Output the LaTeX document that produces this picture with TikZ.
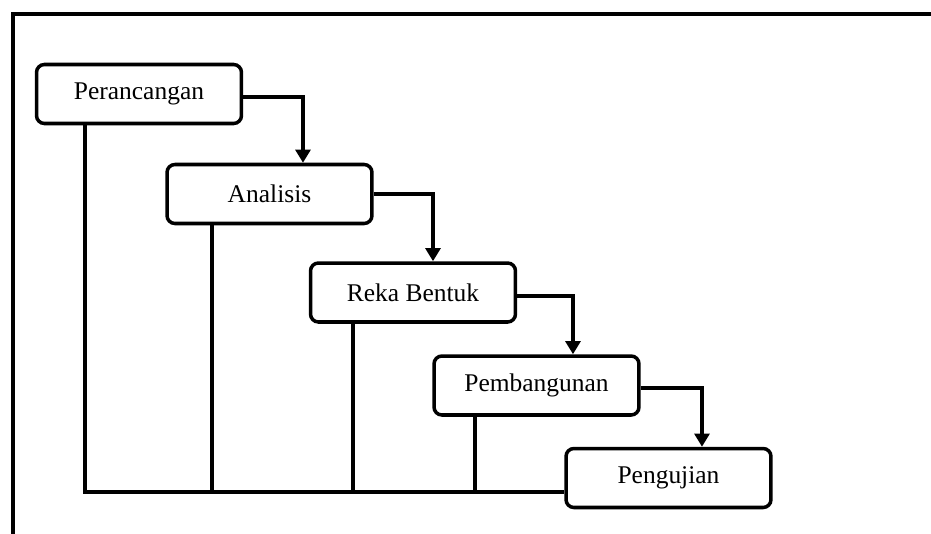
\documentclass[tikz,border=0pt]{standalone}
\usepackage{fontspec}
\setmainfont{Liberation Serif}
\usetikzlibrary{
  arrows.meta,
  positioning,
  calc
}

\begin{document}
\begin{tikzpicture}[
  x=0.02cm, y=-0.02cm,
  every node/.style={font=\fontsize{14.5}{17}\selectfont},
  stage/.style={
    rectangle, rounded corners=4.5pt, minimum width=4.1cm, minimum height=1.18cm,
    text centered, draw, line width=2pt, fill=white
  },
  arr/.style={-{Triangle[width=8.5pt,length=7.5pt]}, line width=2pt},
  link/.style={line width=2pt},
  frame/.style={line width=2.4pt},
]
\useasboundingbox (0,0) rectangle (931,534);

% outer frame
\draw[frame] (13,534) -- (13,14) -- (931,14);

\node[stage] (plan)  at (139,94)    {Perancangan};
\node[stage] (anal)  at (269.5,194) {Analisis};
\node[stage] (reka)  at (413,292.5) {Reka Bentuk};
\node[stage] (bina)  at (536.5,385.5) {Pembangunan};
\node[stage] (uji)   at (668.5,478) {Pengujian};

% Arrows
\draw[arr] ([yshift=-0.06cm]plan.east) -| ([xshift=0.67cm]anal.north);
\draw[arr] (anal.east) -| ([xshift=0.4cm]reka.north);
\draw[arr] ([yshift=-0.07cm]reka.east) -| ([xshift=0.73cm]bina.north);
\draw[arr] ([yshift=-0.05cm]bina.east) -| ([xshift=0.67cm]uji.north);

% Return lines
\coordinate (bus) at ([yshift=-0.28cm]uji.west);
\draw[link] ([xshift=-1.08cm]plan.south) |- (bus);
\draw[link] ([xshift=-1.15cm]anal.south) -- ([xshift=-1.15cm]anal.south |- bus);
\draw[link] ([xshift=-1.2cm]reka.south) -- ([xshift=-1.2cm]reka.south |- bus);
\draw[link] ([xshift=-1.23cm]bina.south) -- ([xshift=-1.23cm]bina.south |- bus);
\end{tikzpicture}
\end{document}
